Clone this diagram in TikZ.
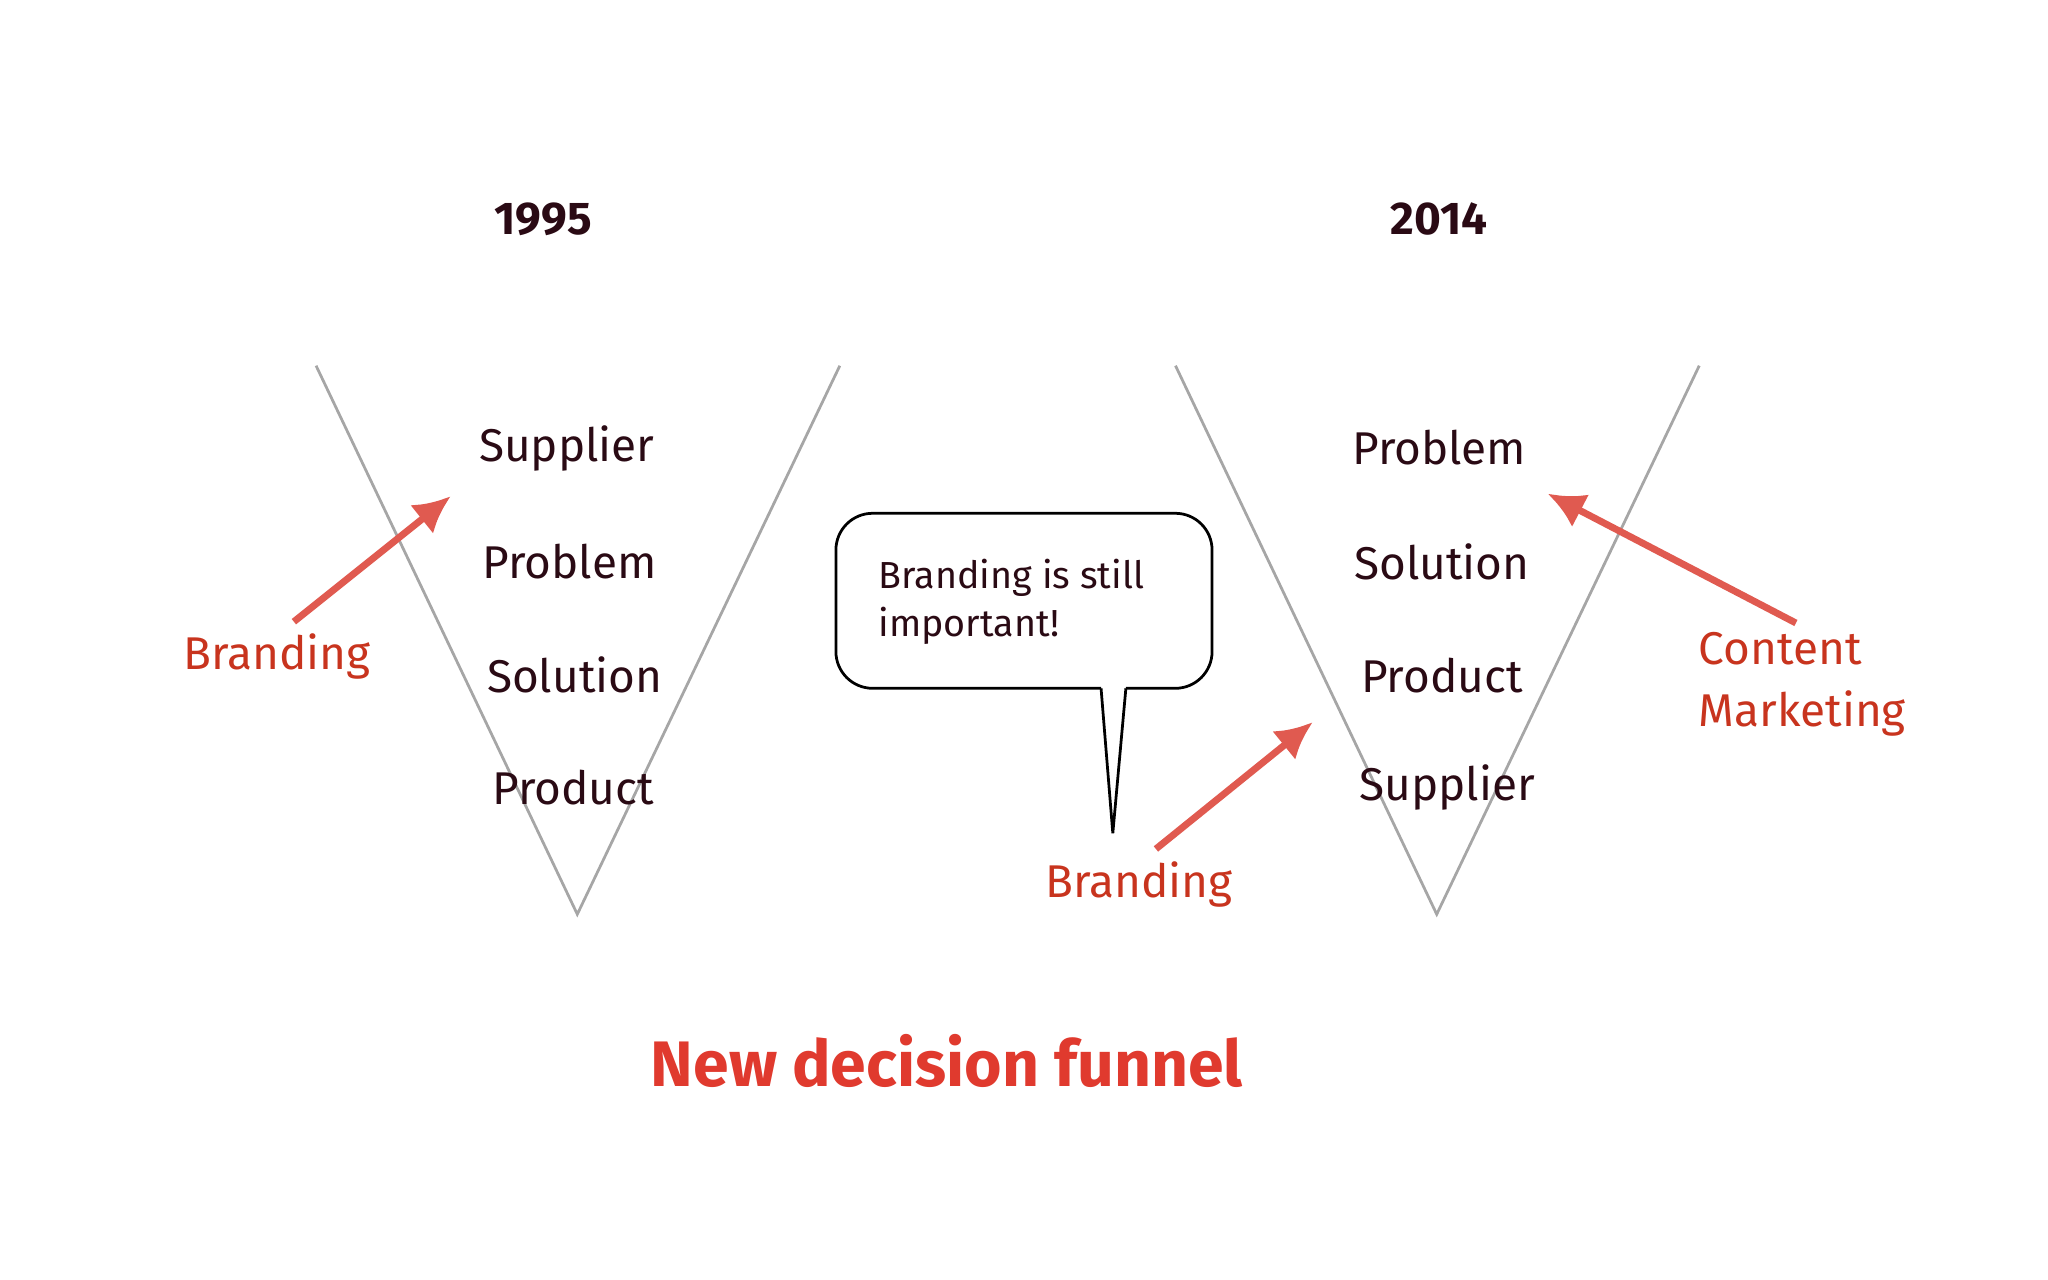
\documentclass[tikz,border=0pt]{standalone}
\usepackage{fontspec}
\setmainfont{Fira Sans}
\usetikzlibrary{arrows.meta}
\begin{document}
\begin{tikzpicture}[x=0.01cm,y=-0.01cm,
  vline/.style={draw=gray!70,line width=0.6pt},
  item/.style={text=txt,font=\fontsize{10}{11}\selectfont,inner sep=0},
  lab/.style={text=lred,font=\fontsize{10}{11}\selectfont,inner sep=0},
  yr/.style={text=txt,font=\bfseries\fontsize{10}{11}\selectfont,inner sep=0},
  rarr/.style={draw=ared,line width=1.5pt,-{Latex[length=8pt,width=8pt]}}]
\definecolor{txt}{HTML}{2A0A14}
\definecolor{lred}{HTML}{C8341E}
\definecolor{ared}{HTML}{E05A50}
\definecolor{tred}{HTML}{E03A2E}
\useasboundingbox (0,0) rectangle (1568,980);
\draw[vline] (242,280) -- (442,700) -- (643,280);
\draw[vline] (900,280) -- (1100,700) -- (1301,280);
\node[yr] (y1) at (416,168) {1995};
\node[yr] (y2) at (1102,168) {2014};
\node[item] (a1) at (434,343) {Supplier};
\node[item] (a2) at (436,430) {Problem};
\node[item] (a3) at (440,517) {Solution};
\node[item] (a4) at (439,603) {Product};
\node[item] (b1) at (1102,343) {Problem};
\node[item] (b2) at (1104,430) {Solution};
\node[item] (b3) at (1104,517) {Product};
\node[item] (b4) at (1108,603) {Supplier};
\node[lab] (l1) at (212,503) {Branding};
\node[lab] (l2) at (872,677) {Branding};
\node[lab,anchor=west,align=left,font=\fontsize{10}{13.5}\selectfont] (l3) at (1300,524) {Content\\Marketing};
\coordinate (s1) at (225,476); \coordinate (e1) at (345,380);
\coordinate (s2) at (885,650); \coordinate (e2) at (1005,553);
\coordinate (s3) at (1375,477); \coordinate (e3) at (1185,378);
\draw[rarr] (s1) -- (e1);
\draw[rarr] (s2) -- (e2);
\draw[rarr] (s3) -- (e3);
\draw[line width=0.6pt,rounded corners=8pt] (843,527) -- (640,527) -- (640,393) -- (928,393) -- (928,527) -- (862,527);
\draw[line width=0.6pt] (843,527) -- (852,638) -- (862,527);
\node[item,anchor=west,align=left,font=\fontsize{8.2}{10.5}\selectfont] (bt) at (672,461) {Branding is still\\important!};
\node[text=tred,font=\bfseries\fontsize{14}{15}\selectfont,inner sep=0] (t) at (725,812) {New decision funnel};
\end{tikzpicture}
\end{document}
